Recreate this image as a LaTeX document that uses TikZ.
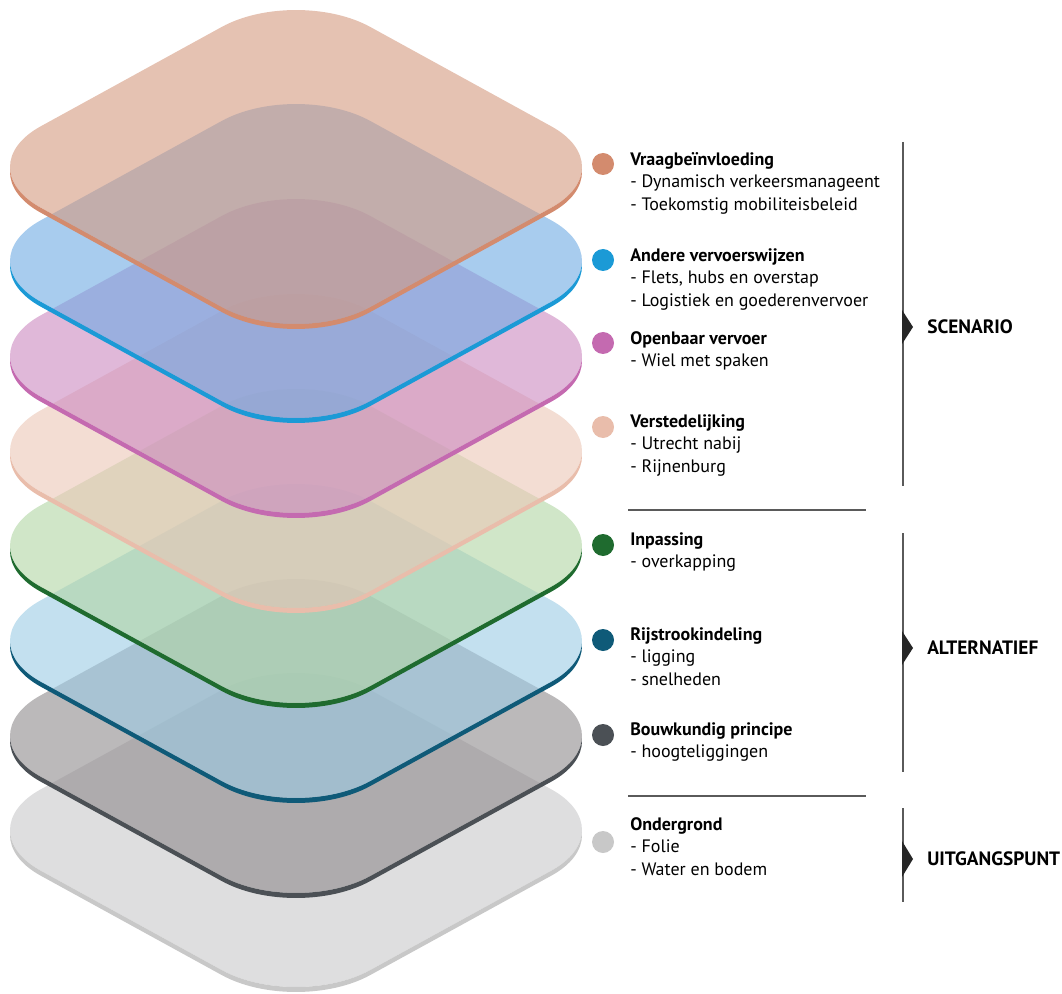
\documentclass[tikz,border=0pt]{standalone}
\usepackage{fontspec}
\setmainfont{PT Sans}
\usetikzlibrary{positioning}

% layer colours: band/dot and face
\definecolor{vraagE}{HTML}{D38B6E}   \definecolor{vraagF}{HTML}{D4997F}
\definecolor{andereE}{HTML}{1B9AD6}  \definecolor{andereF}{HTML}{6EAAE3}
\definecolor{ovE}{HTML}{C46AB0}      \definecolor{ovF}{HTML}{CB89C0}
\definecolor{stadE}{HTML}{E9BDAB}    \definecolor{stadF}{HTML}{EBC6B6}
\definecolor{inpasE}{HTML}{1F6B2F}   \definecolor{inpasF}{HTML}{B1D5A3}
\definecolor{rijE}{HTML}{0F5A78}     \definecolor{rijF}{HTML}{9BCBE4}
\definecolor{bouwE}{HTML}{4B5055}    \definecolor{bouwF}{HTML}{8E8A8C}
\definecolor{grondE}{HTML}{C8C8C8}   \definecolor{grondF}{HTML}{C8C8CA}
\definecolor{rule}{HTML}{5A5A5A}

% rounded square in local coordinates
\newcommand{\layerpath}{(-0.55,-1) -- (0.55,-1) .. controls (0.7985,-1) and (1,-0.7985) .. (1,-0.55)
  -- (1,0.55) .. controls (1,0.7985) and (0.7985,1) .. (0.55,1)
  -- (-0.55,1) .. controls (-0.7985,1) and (-1,0.7985) .. (-1,0.55)
  -- (-1,-0.55) .. controls (-1,-0.7985) and (-0.7985,-1) .. (-0.55,-1) -- cycle}

% one layer: #1 centre y, #2 face colour, #3 band colour
\newcommand{\layer}[3]{%
  \begin{scope}[even odd rule]
    \clip[shift={(296,#1)}, iso] (-3,-3) rectangle (3,3) \layerpath;
    \fill[#3, shift={(296,#1+5)}, iso] \layerpath;
  \end{scope}
  \fill[#2, fill opacity=0.6, shift={(296,#1)}, iso] \layerpath;
}

\tikzset{
  iso/.style={cm={164.7,90.4,164.7,-90.4,(0,0)}},
  dot/.style={circle, minimum size=16.5pt, inner sep=0pt},
  item/.style={anchor=north west, align=left, inner sep=0pt,
    font=\fontsize{13.5}{16.9}\selectfont},
  group/.style={anchor=west, inner sep=0pt, font=\fontsize{14.5}{17}\selectfont\bfseries},
  marker/.style={fill=black!85},
}

\begin{document}
\begin{tikzpicture}[x=0.75pt, y=-0.75pt]
\useasboundingbox (0,0) rectangle (1062,994);

% layers, bottom first
\layer{830}{grondF}{grondE}
\layer{736}{bouwF}{bouwE}
\layer{641}{rijF}{rijE}
\layer{546}{inpasF}{inpasE}
\layer{451}{stadF}{stadE}
\layer{356}{ovF}{ovE}
\layer{261}{andereF}{andereE}
\layer{167}{vraagF}{vraagE}

% legend
\node[dot, fill=vraagE] (d1) at (603,164) {};
\node[item] (t1) at (630,152) {\textbf{Vraagbeïnvloeding}\\- Dynamisch verkeersmanageent\\- Toekomstig mobiliteisbeleid};
\node[dot, fill=andereE] (d2) at (603,260) {};
\node[item] (t2) at (630,248) {\textbf{Andere vervoerswijzen}\\- Flets, hubs en overstap\\- Logistiek en goederenvervoer};
\node[dot, fill=ovE] (d3) at (603,343) {};
\node[item] (t3) at (630,331) {\textbf{Openbaar vervoer}\\- Wiel met spaken};
\node[dot, fill=stadE] (d4) at (603,427) {};
\node[item] (t4) at (630,414) {\textbf{Verstedelijking}\\- Utrecht nabij\\- Rijnenburg};
\node[dot, fill=inpasE] (d5) at (603,545) {};
\node[item] (t5) at (630,532) {\textbf{Inpassing}\\- overkapping};
\node[dot, fill=rijE] (d6) at (603,640) {};
\node[item] (t6) at (630,627) {\textbf{Rijstrookindeling}\\- ligging\\- snelheden};
\node[dot, fill=bouwE] (d7) at (603,735) {};
\node[item] (t7) at (630,722) {\textbf{Bouwkundig principe}\\- hoogteliggingen};
\node[dot, fill=grondE] (d8) at (603,842) {};
\node[item] (t8) at (630,817) {\textbf{Ondergrond}\\- Folie\\- Water en bodem};

% separators
\draw[rule, line width=1.2pt] (628,510) -- (866,510);
\draw[rule, line width=1.2pt] (628,796) -- (866,796);

% groups
\draw[rule, line width=1.5pt] (903,142) -- (903,486);
\fill[marker] (902,310) -- (913,327) -- (902,344) -- cycle;
\node[group] (g1) at (927,327) {SCENARIO};
\draw[rule, line width=1.5pt] (903,533) -- (903,772);
\fill[marker] (902,631) -- (913,648) -- (902,665) -- cycle;
\node[group] (g2) at (927,648) {ALTERNATIEF};
\draw[rule, line width=1.5pt] (903,808) -- (903,902);
\fill[marker] (902,841) -- (913,859) -- (902,877) -- cycle;
\node[group] (g3) at (927,859) {UITGANGSPUNT};
\end{tikzpicture}
\end{document}
